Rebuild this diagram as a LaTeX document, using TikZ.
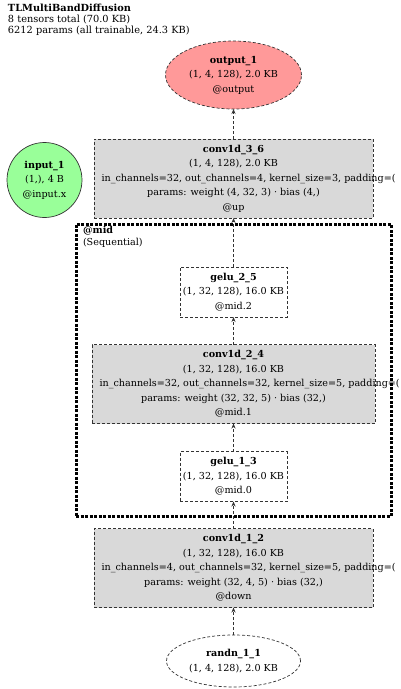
\documentclass[tikz,border=0pt]{standalone}
\usepackage{fontspec}
\setmainfont{DejaVu Serif}
\usetikzlibrary{shapes.geometric,arrows.meta}
\definecolor{outfill}{HTML}{FF9999}
\definecolor{infill}{HTML}{99FF99}
\definecolor{boxfill}{HTML}{D9D9D9}
\definecolor{edgecol}{HTML}{333333}
\begin{document}
\begin{tikzpicture}[x=1pt,y=-1pt,
  every node/.style={inner sep=0pt, outer sep=0pt},
  nodefont/.style={font=\fontsize{9.6}{14.5}\selectfont, align=center},
  dashline/.style={draw=edgecol, line width=0.7pt, dash pattern=on 3pt off 2pt},
  opbox/.style={rectangle, nodefont, dashline, fill=boxfill},
  actbox/.style={rectangle, nodefont, dashline, fill=white},
  cluster/.style={rectangle, draw=black, line width=3pt, dash pattern=on 3pt off 1.5pt},
  flow/.style={dashline, -{Stealth[length=5pt,width=4pt]}}]
\useasboundingbox (0,0) rectangle (400,689);
\clip (0,0) rectangle (400,689);

\node[anchor=north west, align=left, font=\fontsize{9.8}{11}\selectfont] (hdr) at (8,4)
  {\textbf{TLMultiBandDiffusion}\\8 tensors total (70.0 KB)\\6212 params (all trainable, 24.3 KB)};

\node[cluster, minimum width=315pt, minimum height=292pt] (mid) at (233.5,370) {};
\node[anchor=north west, align=left, font=\fontsize{9.6}{12}\selectfont] (midlabel) at (83,226.5)
  {\textbf{@mid}\\(Sequential)};

\node[ellipse, nodefont, dashline, fill=outfill, minimum width=136pt, minimum height=68pt] (out) at (233.5,75)
  {\textbf{output\_1}\\(1, 4, 128), 2.0 KB\\@output};

\node[circle, nodefont, draw=edgecol, line width=0.7pt, fill=infill, minimum size=75pt] (inp) at (44.5,180)
  {\textbf{input\_1}\\(1,), 4 B\\@input.x};

\node[opbox, minimum width=279pt, minimum height=79pt] (conv3) at (233.5,178.5)
  {\textbf{conv1d\_3\_6}\\(1, 4, 128), 2.0 KB\\\makebox[264pt][l]{in\_channels=32, out\_channels=4, kernel\_size=3, padding=(}\\params: weight (4, 32, 3) · bias (4,)\\@up};

\node[actbox, minimum width=107pt, minimum height=50pt] (gelu2) at (233.5,292)
  {\textbf{gelu\_2\_5}\\(1, 32, 128), 16.0 KB\\@mid.2};

\node[opbox, minimum width=283pt, minimum height=79pt] (conv2) at (233.5,384)
  {\textbf{conv1d\_2\_4}\\(1, 32, 128), 16.0 KB\\\makebox[268pt][l]{in\_channels=32, out\_channels=32, kernel\_size=5, padding=(}\\params: weight (32, 32, 5) · bias (32,)\\@mid.1};

\node[actbox, minimum width=107pt, minimum height=50pt] (gelu1) at (233.5,476.5)
  {\textbf{gelu\_1\_3}\\(1, 32, 128), 16.0 KB\\@mid.0};

\node[opbox, minimum width=279pt, minimum height=79pt] (conv1) at (233.5,568)
  {\textbf{conv1d\_1\_2}\\(1, 32, 128), 16.0 KB\\\makebox[264pt][l]{in\_channels=4, out\_channels=32, kernel\_size=5, padding=(}\\params: weight (32, 4, 5) · bias (32,)\\@down};

\node[ellipse, nodefont, dashline, fill=white, minimum width=134pt, minimum height=52pt] (randn) at (233.5,661)
  {\textbf{randn\_1\_1}\\(1, 4, 128), 2.0 KB};

\draw[flow] (randn) -- (conv1);
\draw[flow] (conv1) -- (gelu1);
\draw[flow] (gelu1) -- (conv2);
\draw[flow] (conv2) -- (gelu2);
\draw[flow] (gelu2) -- (conv3);
\draw[flow] (conv3) -- (out);
\end{tikzpicture}
\end{document}
